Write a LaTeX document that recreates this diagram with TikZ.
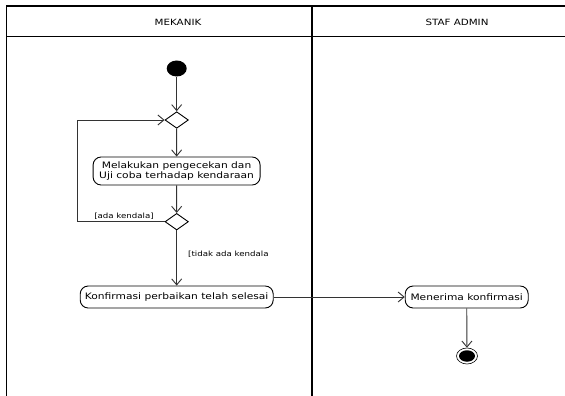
\documentclass[tikz,border=0pt]{standalone}
\usepackage{fontspec}
\setmainfont{DejaVu Sans}[FakeStretch=1.2]
\usetikzlibrary{arrows.meta,shapes.geometric}
\begin{document}
\begin{tikzpicture}[x=1pt,y=-1pt,
  lane/.style={line width=1.8pt,black},
  flow/.style={line width=0.9pt,draw=black!80,-{Straight Barb[length=6pt,width=10pt,line width=0.9pt]}},
  action/.style={draw=black,line width=0.9pt,rounded corners=8pt,minimum height=22pt,
    font=\fontsize{8.9}{10.4}\selectfont,align=center,inner sep=2pt},
  decision/.style={diamond,draw=black,line width=0.9pt,minimum width=23.4pt,
    minimum height=16.6pt,inner sep=0pt},
  guard/.style={font=\fontsize{7.2}{8.4}\selectfont,inner sep=1pt},
  header/.style={font=\fontsize{8.6}{9.6}\selectfont}]
\useasboundingbox (0,0) rectangle (565,396);
\fill[white] (0,0) rectangle (565,396);

% swimlane frame
\draw[lane] (6,6) -- (565,6);
\draw[lane] (6.5,6) -- (6.5,396);
\draw[lane] (312,6) -- (312,396);
\draw[line width=0.9pt] (6,36) -- (565,36);
\node[header] (laneA) at (178,22) {MEKANIK};
\node[header] (laneB) at (457,22) {STAF ADMIN};

% activity nodes
\node[ellipse,fill=black,minimum width=20pt,minimum height=16pt,inner sep=0pt] (start) at (176.7,68.5) {};
\node[decision] (d1) at (176.7,120) {};
\node[action,minimum width=167pt,minimum height=28pt] (cek) at (176.6,171)
  {Melakukan pengecekan dan\\Uji coba terhadap kendaraan};
\node[decision] (d2) at (176.7,221.7) {};
\node[action,minimum width=193pt] (konf) at (176.7,297) {Konfirmasi perbaikan telah selesai};
\node[action,minimum width=123pt] (terima) at (466.7,297) {Menerima konfirmasi};
\node[ellipse,draw=black,line width=0.6pt,minimum width=21pt,minimum height=16pt,inner sep=0pt] (stop) at (467,356) {};
\node[ellipse,fill=black,minimum width=16pt,minimum height=11.5pt,inner sep=0pt] (stopdot) at (467,356) {};

% control flow
\draw[flow] (start) -- (d1);
\draw[flow] (d1) -- (cek);
\draw[flow] (cek) -- (d2);
\draw[flow] (d2) -- (konf);
\coordinate (back) at (77,221.7);
\draw[flow] (d2.west) -- (back) |- (d1.west);
\draw[flow] (konf) -- (terima);
\draw[flow] (terima) -- (stop);

% guards
\node[guard,anchor=south east] (g1) at (155,220.5) {[ada kendala]};
\node[guard,anchor=west] (g2) at (187,254) {[tidak ada kendala};
\end{tikzpicture}
\end{document}
